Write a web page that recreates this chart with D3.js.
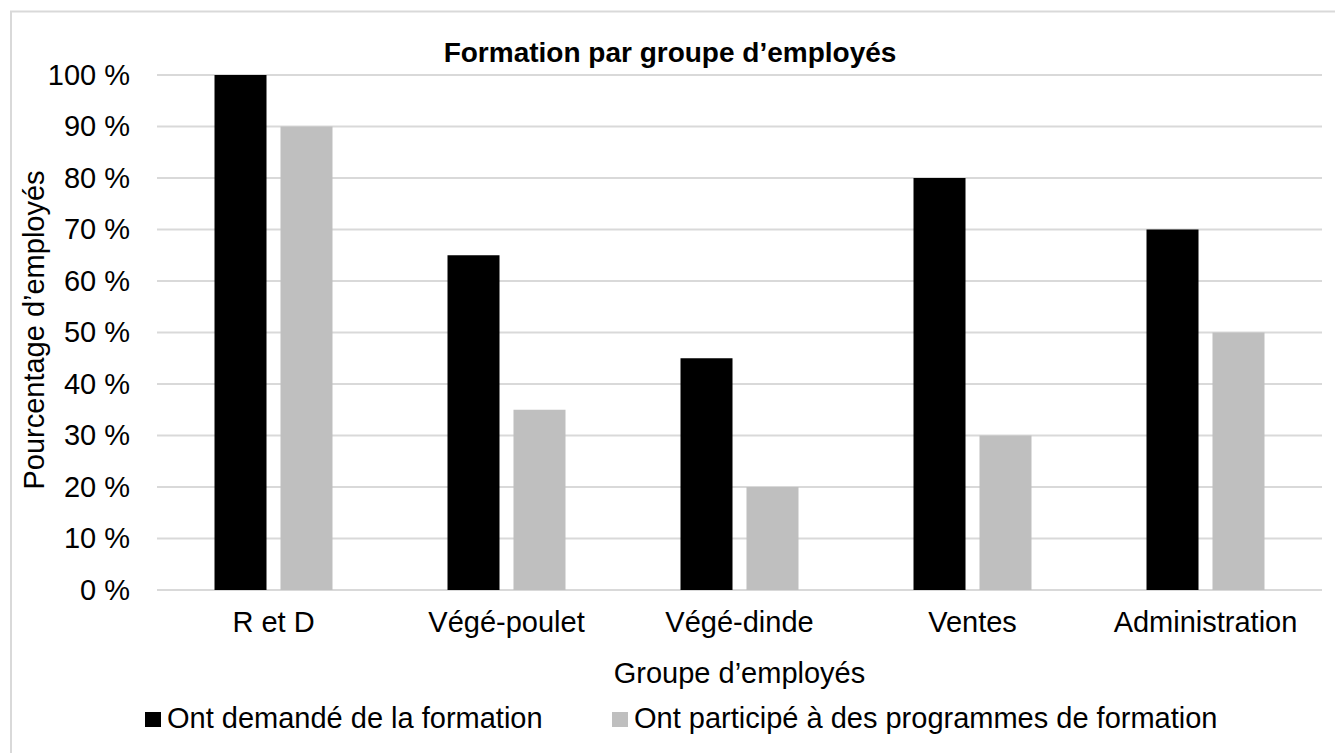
<!DOCTYPE html>
<html>
<head>
<meta charset="utf-8">
<script src="https://cdn.jsdelivr.net/npm/d3@7"></script>
<style>
  html, body { margin: 0; padding: 0; background: #fff; }
  svg { display: block; font-family: "Liberation Sans", Arial, sans-serif; }
</style>
</head>
<body>
<div id="chart"></div>
<script>
// Data
const categories = ["R et D", "Végé-poulet", "Végé-dinde", "Ventes", "Administration"];
const seriesNames = ["Ont demandé de la formation", "Ont participé à des programmes de formation"];
const demanded = [100, 65, 45, 80, 70];
const participated = [90, 35, 20, 30, 50];
const yTicks = [0, 10, 20, 30, 40, 50, 60, 70, 80, 90, 100];
const colors = ["#000000", "#bfbfbf"];

const width = 1335, height = 753;
const margin = {top: 75, right: 13, bottom: 163, left: 157};
const fontSize = 29;

const svg = d3.select("#chart").append("svg")
  .attr("width", width)
  .attr("height", height);

// chart frame
svg.append("rect")
  .attr("x", 11).attr("y", 11.5)
  .attr("width", width + 20).attr("height", height + 20)
  .attr("fill", "none")
  .attr("stroke", "#d9d9d9")
  .attr("stroke-width", 2);

const x0 = d3.scaleBand()
  .domain(categories)
  .range([margin.left, width - margin.right])
  .paddingInner(0.4936)
  .paddingOuter(0.2468);

const x1 = d3.scaleBand()
  .domain([0, 1])
  .range([0, x0.bandwidth()])
  .paddingInner(0.212);

const y = d3.scaleLinear()
  .domain([0, 100])
  .range([height - margin.bottom, margin.top]);

// gridlines
svg.append("g")
  .selectAll("line")
  .data(yTicks)
  .join("line")
  .attr("x1", margin.left).attr("x2", width - margin.right)
  .attr("y1", d => y(d)).attr("y2", d => y(d))
  .attr("stroke", "#d9d9d9")
  .attr("stroke-width", 2);

// y tick labels
const yAxis = d3.axisLeft(y).tickValues(yTicks).tickSize(0).tickPadding(0)
  .tickFormat(d => d + " %");
const gy = svg.append("g")
  .attr("transform", `translate(130,0)`)
  .call(yAxis);
gy.select(".domain").remove();
gy.selectAll("text")
  .attr("font-family", "Liberation Sans, Arial, sans-serif")
  .attr("font-size", fontSize)
  .attr("fill", "#000");

// bars
const table = categories.map((c, i) => ({cat: c, values: [demanded[i], participated[i]]}));
const groups = svg.append("g")
  .selectAll("g")
  .data(table)
  .join("g")
  .attr("transform", d => `translate(${x0(d.cat)},0)`);

groups.selectAll("rect")
  .data(d => d.values.map((v, s) => ({s, v})))
  .join("rect")
  .attr("x", d => x1(d.s))
  .attr("width", x1.bandwidth())
  .attr("y", d => y(d.v))
  .attr("height", d => y(0) - y(d.v))
  .attr("fill", d => colors[d.s]);

// x axis labels
const xAxis = d3.axisBottom(x0).tickSize(0).tickPadding(0);
const gx = svg.append("g")
  .attr("transform", `translate(0,${y(0)})`)
  .call(xAxis);
gx.select(".domain").remove();
gx.selectAll("text")
  .attr("font-family", "Liberation Sans, Arial, sans-serif")
  .attr("font-size", fontSize)
  .attr("fill", "#000")
  .attr("dy", null)
  .attr("y", 42);

// title
svg.append("text")
  .attr("x", 670).attr("y", 62)
  .attr("text-anchor", "middle")
  .attr("font-size", 28)
  .attr("font-weight", "bold")
  .text("Formation par groupe d’employés");

// axis titles
svg.append("text")
  .attr("x", (margin.left + width - margin.right) / 2).attr("y", 683)
  .attr("text-anchor", "middle")
  .attr("font-size", fontSize)
  .text("Groupe d’employés");

svg.append("text")
  .attr("transform", "translate(44,330) rotate(-90)")
  .attr("text-anchor", "middle")
  .attr("font-size", fontSize)
  .text("Pourcentage d’employés");

// legend
const legendX = [145, 612];
const legend = svg.append("g")
  .selectAll("g")
  .data(seriesNames)
  .join("g")
  .attr("transform", (d, i) => `translate(${legendX[i]},712)`);
legend.append("rect")
  .attr("width", 16).attr("height", 15)
  .attr("fill", (d, i) => colors[i]);
legend.append("text")
  .attr("x", 22).attr("y", 16)
  .attr("font-size", fontSize)
  .text(d => d);
</script>
</body>
</html>
